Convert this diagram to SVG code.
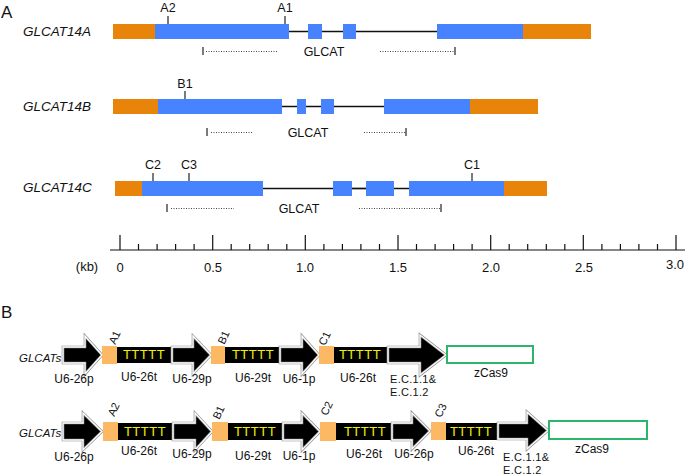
<svg xmlns="http://www.w3.org/2000/svg" width="685" height="476" viewBox="0 0 685 476">
<style>
text{font-family:"Liberation Sans",Arial,sans-serif;fill:#111}
.pl{font-size:17px}
.gn{font-size:13.5px;font-style:italic}
.lb{font-size:12.5px}
.sc{font-size:13px;text-anchor:middle}
.utr{fill:#E8840A}
.cds{fill:#4783FF}
.intr{stroke:#111;stroke-width:1.3}
.tk{stroke:#222;stroke-width:1.2}
.dot{stroke:#444;stroke-width:1;stroke-dasharray:1 1.5}
.ax{stroke:#111;stroke-width:1.2}
.ao{fill:#000;stroke:#8a8a8a;stroke-width:2.6;stroke-linejoin:miter}
.ai{fill:none;stroke:#fff;stroke-width:1.3;stroke-linejoin:miter}
.sg{fill:#FDB864}
.bar{fill:#000}
.tt{font-size:13px;fill:#F2F200;letter-spacing:0.5px}
.bl{font-size:12px;text-anchor:middle}
.bll{font-size:11px;letter-spacing:0.3px}
.gl{font-size:11.5px;font-style:italic}
.rl{font-size:11px;text-anchor:middle}
.cas{fill:#fff;stroke:#2DB56B;stroke-width:2}
</style>

<text class="pl" x="1" y="18">A</text>
<text class="pl" x="1" y="318">B</text>

<g id="connectors">
  <line class="intr" x1="289" y1="31.5" x2="437" y2="31.5"/>
  <line class="intr" x1="282" y1="106.5" x2="384" y2="106.5"/>
  <line class="intr" x1="263" y1="188.5" x2="409" y2="188.5"/>
</g>

<g id="gene-GLCAT14A">
  <text class="gn" x="23" y="36">GLCAT14A</text>
  <rect class="utr" x="113" y="24" width="42" height="15"/>
  <rect class="cds" x="155" y="24" width="134" height="15"/>
  <rect class="cds" x="308" y="24" width="14" height="15"/>
  <rect class="cds" x="343" y="24" width="13" height="15"/>
  <rect class="cds" x="437" y="24" width="86" height="15"/>
  <rect class="utr" x="523" y="24" width="68" height="15"/>
  <line class="tk" x1="168" y1="16" x2="168" y2="24"/>
  <text class="lb" x="168" y="12" text-anchor="middle">A2</text>
  <line class="tk" x1="285" y1="16" x2="285" y2="24"/>
  <text class="lb" x="285" y="12" text-anchor="middle">A1</text>
  <line class="tk" x1="203" y1="47" x2="203" y2="55"/>
  <line class="dot" x1="206" y1="51.5" x2="278" y2="51.5"/>
  <line class="dot" x1="380" y1="51.5" x2="454" y2="51.5"/>
  <line class="tk" x1="455" y1="47" x2="455" y2="55"/>
  <text class="lb" x="324" y="56" text-anchor="middle" font-size="13">GLCAT</text>
</g>

<g id="gene-GLCAT14B">
  <text class="gn" x="23" y="111">GLCAT14B</text>
  <rect class="utr" x="113" y="99" width="45" height="15"/>
  <rect class="cds" x="158" y="99" width="124" height="15"/>
  <rect class="cds" x="297" y="99" width="9" height="15"/>
  <rect class="cds" x="321" y="99" width="13" height="15"/>
  <rect class="cds" x="384" y="99" width="86" height="15"/>
  <rect class="utr" x="470" y="99" width="68" height="15"/>
  <line class="tk" x1="185" y1="91" x2="185" y2="99"/>
  <text class="lb" x="185" y="88" text-anchor="middle">B1</text>
  <line class="tk" x1="207" y1="128" x2="207" y2="136"/>
  <line class="dot" x1="211" y1="132.5" x2="253" y2="132.5"/>
  <line class="dot" x1="364" y1="132.5" x2="405" y2="132.5"/>
  <line class="tk" x1="406" y1="128" x2="406" y2="136"/>
  <text class="lb" x="308" y="137" text-anchor="middle" font-size="13">GLCAT</text>
</g>

<g id="gene-GLCAT14C">
  <text class="gn" x="23" y="192">GLCAT14C</text>
  <rect class="utr" x="115" y="181" width="27" height="15"/>
  <rect class="cds" x="142" y="181" width="121" height="15"/>
  <rect class="cds" x="333" y="181" width="19" height="15"/>
  <line class="intr" x1="352" y1="188.5" x2="366" y2="188.5"/>
  <rect class="cds" x="366" y="181" width="28" height="15"/>
  <rect class="cds" x="409" y="181" width="95" height="15"/>
  <rect class="utr" x="504" y="181" width="43" height="15"/>
  <line class="tk" x1="153" y1="173" x2="153" y2="181"/>
  <text class="lb" x="153" y="169" text-anchor="middle">C2</text>
  <line class="tk" x1="189" y1="173" x2="189" y2="181"/>
  <text class="lb" x="189" y="169" text-anchor="middle">C3</text>
  <line class="tk" x1="472" y1="173" x2="472" y2="181"/>
  <text class="lb" x="472" y="169" text-anchor="middle">C1</text>
  <line class="tk" x1="167" y1="204" x2="167" y2="212"/>
  <line class="dot" x1="171" y1="208.5" x2="234" y2="208.5"/>
  <line class="dot" x1="359" y1="208.5" x2="440" y2="208.5"/>
  <line class="tk" x1="441" y1="204" x2="441" y2="212"/>
  <text class="lb" x="299" y="213" text-anchor="middle" font-size="13">GLCAT</text>
</g>

<g id="scale">
  <line class="ax" x1="110" y1="250" x2="685" y2="250"/>
  <path class="ax" fill="none" d="M120,235V250M212.7,235V250M305.3,235V250M398,235V250M490.7,235V250M583.3,235V250M676,235V250"/>
  <path class="ax" fill="none" d="M138.5,244V250M157.1,244V250M175.6,244V250M194.1,244V250M231.2,244V250M249.7,244V250M268.2,244V250M286.8,244V250M323.9,244V250M342.4,244V250M360.9,244V250M379.5,244V250M416.5,244V250M435.1,244V250M453.6,244V250M472.1,244V250M509.2,244V250M527.7,244V250M546.3,244V250M564.8,244V250M601.9,244V250M620.4,244V250M638.9,244V250M657.5,244V250"/>
  <text class="sc" x="87" y="271">(kb)</text>
  <text class="sc" x="120" y="272">0</text>
  <text class="sc" x="213" y="272">0.5</text>
  <text class="sc" x="305" y="272">1.0</text>
  <text class="sc" x="398" y="272">1.5</text>
  <text class="sc" x="491" y="272">2.0</text>
  <text class="sc" x="584" y="272">2.5</text>
  <text class="sc" x="675" y="269">3.0</text>
</g>

<g id="construct-1">
  <text class="gl" x="19" y="362">GLCATs</text>
  <path class="ao" d="M63,347H85V336L102,355L85,374V363H63Z"/>
  <path class="ai" d="M63,347H85V336L102,355L85,374V363H63Z"/>
  <rect class="sg" x="102" y="346" width="15" height="18"/>
  <rect class="bar" x="117" y="347" width="55" height="16"/>
  <text class="tt" x="144" y="359" text-anchor="middle">TTTTT</text>
  <path class="ao" d="M172,347H193V336L211,355L193,374V363H172Z"/>
  <path class="ai" d="M172,347H193V336L211,355L193,374V363H172Z"/>
  <rect class="sg" x="211" y="346" width="14" height="18"/>
  <rect class="bar" x="225" y="347" width="55" height="16"/>
  <text class="tt" x="253" y="359" text-anchor="middle">TTTTT</text>
  <path class="ao" d="M280,347H302V336L319,355L302,374V363H280Z"/>
  <path class="ai" d="M280,347H302V336L319,355L302,374V363H280Z"/>
  <rect class="sg" x="319" y="346" width="15" height="18"/>
  <rect class="bar" x="334" y="347" width="54" height="16"/>
  <text class="tt" x="360" y="359" text-anchor="middle">TTTTT</text>
  <path class="ao" d="M388,347H420V335L446,355L420,375V363H388Z"/>
  <path class="ai" d="M388,347H420V335L446,355L420,375V363H388Z"/>
  <rect class="cas" x="447" y="346" width="86" height="17"/>
  <text class="rl" transform="translate(118,339) rotate(-65)">A1</text>
  <text class="rl" transform="translate(227,339) rotate(-65)">B1</text>
  <text class="rl" transform="translate(328,340) rotate(-65)">C1</text>
  <text class="bl" x="74" y="383">U6-26p</text>
  <text class="bl" x="139" y="381">U6-26t</text>
  <text class="bl" x="192" y="383">U6-29p</text>
  <text class="bl" x="253" y="382">U6-29t</text>
  <text class="bl" x="299" y="383">U6-1p</text>
  <text class="bl" x="358" y="382">U6-26t</text>
  <text class="bll" x="390" y="383">E.C.1.1&amp;</text>
  <text class="bll" x="390" y="396">E.C.1.2</text>
  <text class="bl" x="491" y="377">zCas9</text>
</g>

<g id="construct-2">
  <text class="gl" x="19" y="437">GLCATs</text>
  <path class="ao" d="M63,423H83V413L102,431.5L83,450V440H63Z"/>
  <path class="ai" d="M63,423H83V413L102,431.5L83,450V440H63Z"/>
  <rect class="sg" x="103" y="422" width="15" height="19"/>
  <rect class="bar" x="118" y="423" width="55" height="17"/>
  <text class="tt" x="145" y="436" text-anchor="middle">TTTTT</text>
  <path class="ao" d="M173,423H195V413L212,431.5L195,450V440H173Z"/>
  <path class="ai" d="M173,423H195V413L212,431.5L195,450V440H173Z"/>
  <rect class="sg" x="212" y="422" width="16" height="19"/>
  <rect class="bar" x="228" y="423" width="55" height="17"/>
  <text class="tt" x="255" y="436" text-anchor="middle">TTTTT</text>
  <path class="ao" d="M283,423H302V413L320,431.5L302,450V440H283Z"/>
  <path class="ai" d="M283,423H302V413L320,431.5L302,450V440H283Z"/>
  <rect class="sg" x="320" y="422" width="16" height="19"/>
  <rect class="bar" x="336" y="423" width="56" height="17"/>
  <text class="tt" x="365" y="436" text-anchor="middle">TTTTT</text>
  <path class="ao" d="M392,423H412V413L430,431L412,449V440H392Z"/>
  <path class="ai" d="M392,423H412V413L430,431L412,449V440H392Z"/>
  <rect class="sg" x="431" y="422" width="15" height="18"/>
  <rect class="bar" x="446" y="423" width="52" height="17"/>
  <text class="tt" x="471" y="436" text-anchor="middle">TTTTT</text>
  <path class="ao" d="M498,423H527V412L548,430.5L527,449V439H498Z"/>
  <path class="ai" d="M498,423H527V412L548,430.5L527,449V439H498Z"/>
  <rect class="cas" x="549" y="421" width="98" height="18"/>
  <text class="rl" transform="translate(117,411) rotate(-65)">A2</text>
  <text class="rl" transform="translate(222,414) rotate(-65)">B1</text>
  <text class="rl" transform="translate(330,410) rotate(-65)">C2</text>
  <text class="rl" transform="translate(444,412) rotate(-65)">C3</text>
  <text class="bl" x="74" y="461">U6-26p</text>
  <text class="bl" x="139" y="455">U6-26t</text>
  <text class="bl" x="192" y="458">U6-29p</text>
  <text class="bl" x="253" y="460">U6-29t</text>
  <text class="bl" x="299" y="460">U6-1p</text>
  <text class="bl" x="364" y="458">U6-26t</text>
  <text class="bl" x="414" y="458">U6-26p</text>
  <text class="bl" x="476" y="455">U6-26t</text>
  <text class="bll" x="503" y="461">E.C.1.1&amp;</text>
  <text class="bll" x="503" y="474">E.C.1.2</text>
  <text class="bl" x="592" y="453">zCas9</text>
</g>
</svg>
